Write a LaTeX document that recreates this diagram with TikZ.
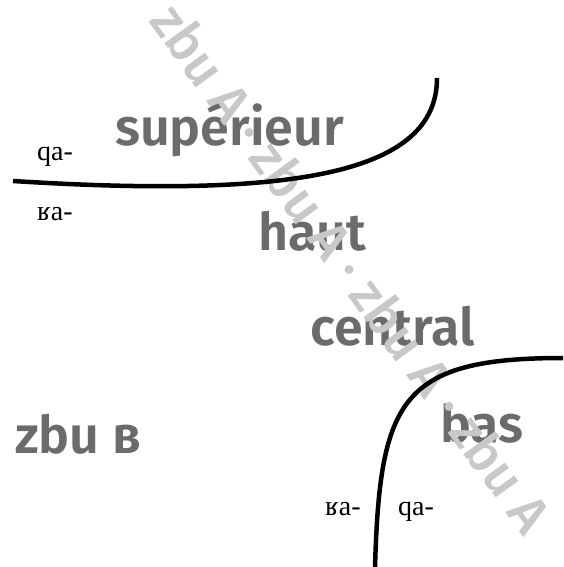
\documentclass[tikz,border=0pt]{standalone}
\usepackage{fontspec}
\setmainfont{Fira Sans}
\newfontfamily\labfont{Fira Sans SemiBold}
\newfontfamily\wmfont{Fira Sans Medium}
\newfontfamily\ipafont{Liberation Serif}
\definecolor{labgrey}{HTML}{6B6B6B}
\definecolor{wmgrey}{HTML}{C8C8C8}
\begin{document}
\begin{tikzpicture}[x=1pt,y=-1pt,
  biglabel/.style={anchor=base west,inner sep=0pt,text=labgrey,font=\labfont\fontsize{52}{60}\selectfont},
  ipalabel/.style={anchor=base west,inner sep=0pt,text=black,font=\ipafont\fontsize{28}{32}\selectfont},
  watermark/.style={anchor=center,inner sep=0pt,text=wmgrey,font=\wmfont\fontsize{53}{60}\selectfont},
  boundary/.style={line width=4.5pt}]
\useasboundingbox (0,0) rectangle (563,567);
\node[biglabel] (sup) at (115,145) {supérieur};
\node[biglabel] (haut) at (258,250) {haut};
\node[biglabel] (central) at (310,345) {central};
\node[biglabel] (bas) at (440,442) {bas};
\node[biglabel] (zbub) at (15,453) {zbu в};
\node[ipalabel] (q1) at (37,160) {qa-};
\node[ipalabel] (r1) at (37,220) {ʁa-};
\node[ipalabel] (r2) at (325,515) {ʁa-};
\node[ipalabel] (q2) at (398,515) {qa-};
\node[watermark,rotate=-53.9] (wm) at (352,268) {zbu A · zbu A · zbu A · zbu A};
\coordinate (t0) at (13,181);
\coordinate (t1) at (437,78);
\coordinate (b0) at (375,567);
\coordinate (b1) at (563,358);
\draw[boundary] (t0) .. controls (300,199) and (437,172) .. (t1);
\draw[boundary] (b0) .. controls (380,400) and (400,358) .. (b1);
\end{tikzpicture}
\end{document}
